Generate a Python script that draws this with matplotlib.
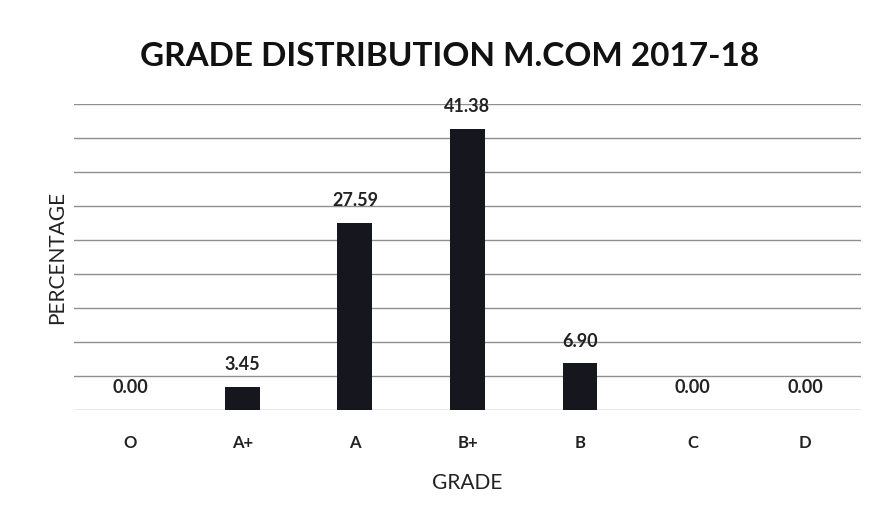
import matplotlib
matplotlib.use("Agg")
import matplotlib.pyplot as plt

grades = ["O", "A+", "A", "B+", "B", "C", "D"]
percent = [0.00, 3.45, 27.59, 41.38, 6.90, 0.00, 0.00]

plt.rcParams.update({"font.family": ["Lato", "DejaVu Sans"]})

fig = plt.figure(figsize=(8.77, 5.21), dpi=100)
ax = fig.add_axes([0.084, 0.213, 0.898, 0.587])

x = range(len(grades))
ax.bar(x, percent, width=0.31, color="#16161f", zorder=3)
for i, v in zip(x, percent):
    ax.text(i, v + 2.0, f"{v:.2f}", ha="center", va="bottom",
            fontsize=13, fontweight="bold", color="#222222")

ax.set_xlim(-0.5, len(grades) - 0.5)
ax.set_ylim(0, 45)
ax.set_yticks(range(0, 46, 5))
ax.set_yticklabels([])
ax.tick_params(axis="y", length=0)
ax.set_xticks(list(x))
ax.set_xticklabels(grades, fontsize=12, fontweight="bold", color="#222222")
ax.tick_params(axis="x", length=0, pad=18)
ax.grid(axis="y", color="#8f8f8f", linewidth=1.0, zorder=0)
for s in ax.spines.values():
    s.set_visible(False)

ax.set_xlabel("GRADE", fontsize=15, color="#222222", labelpad=16)
ax.set_ylabel("PERCENTAGE", fontsize=15, color="#222222", labelpad=1)
fig.text(0.513, 0.892, "GRADE DISTRIBUTION M.COM 2017-18", ha="center",
         va="center", fontsize=24, fontweight="bold", color="#111111")

fig.savefig("out.png", dpi=100)
